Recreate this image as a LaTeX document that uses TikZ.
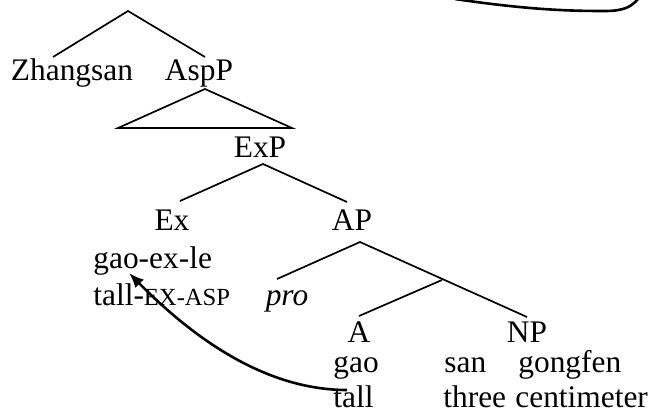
\documentclass[tikz,border=0pt]{standalone}
\usepackage{fontspec}
\setmainfont{Liberation Serif}
\usetikzlibrary{arrows.meta}
\newcommand{\mysc}[1]{{\fontsize{12.3}{14}\selectfont #1}}
\begin{document}
\begin{tikzpicture}[x=0.5pt,y=-0.5pt,
  branch/.style={line width=0.85pt},
  movecurve/.style={line width=1.3pt},
  lbl/.style={inner sep=0pt,anchor=base,font=\fontsize{15.7}{18}\selectfont},
  lblw/.style={lbl,anchor=base west}]
\useasboundingbox (0,0) rectangle (650,419);
% coordinates of branch points
\coordinate (top) at (128,11);
\coordinate (zl) at (53,57);
\coordinate (zr) at (205,57);
\coordinate (tapex) at (205,89);
\coordinate (tl) at (118,128);
\coordinate (tr) at (292,128);
\coordinate (exapex) at (263,164);
\coordinate (exl) at (180,201);
\coordinate (exr) at (347,202);
\coordinate (apapex) at (360,242);
\coordinate (prol) at (277,279);
\coordinate (abar) at (442,280);
\coordinate (npend) at (527,317);
\coordinate (aend) at (359,316);
\coordinate (mvstart) at (347,390);
\coordinate (mvend) at (129,273);
\coordinate (c1) at (455,-1);
\coordinate (c2) at (605,11);
\coordinate (c3) at (638,-1);
% labels
\node[lbl] (zhangsan) at (72,80) {Zhangsan};
\node[lbl] (aspp) at (199,80) {AspP};
\node[lbl] (exp) at (260,157) {ExP};
\node[lbl] (ex) at (172,230) {Ex};
\node[lbl] (ap) at (352,230) {AP};
\node[lblw] (gaoexle) at (93,268) {gao-ex-le};
\node[lblw] (gloss1) at (93,305) {tall-\mysc{EX-ASP}};
\node[lbl] (pro) at (287,305) {\itshape pro};
\node[lbl] (a) at (359,342) {A};
\node[lbl] (np) at (527,342) {NP};
\node[lblw] (gao) at (333,372) {gao};
\node[lblw] (san) at (444,372) {san};
\node[lblw] (gongfen) at (518,372) {gongfen};
\node[lblw] (tall) at (333,407) {tall};
\node[lblw] (three) at (443,407) {three};
\node[lblw] (centimeter) at (515,407) {centimeter};
% branches
\draw[branch] (zl) -- (top) -- (zr);
\draw[branch] (tl) -- (tapex) -- (tr) -- cycle;
\draw[branch] (exl) -- (exapex) -- (exr);
\draw[branch] (prol) -- (apapex) -- (npend);
\draw[branch] (abar) -- (aend);
% movement arrow
\draw[movecurve,-{Latex[length=7.5pt,width=6pt]}] (mvstart) .. controls (280,390) and (210,355) .. (mvend);
% curve at top
\draw[movecurve] (c1) .. controls (530,10) and (570,11) .. (c2) .. controls (625,11) and (632,6) .. (c3);
\end{tikzpicture}
\end{document}
